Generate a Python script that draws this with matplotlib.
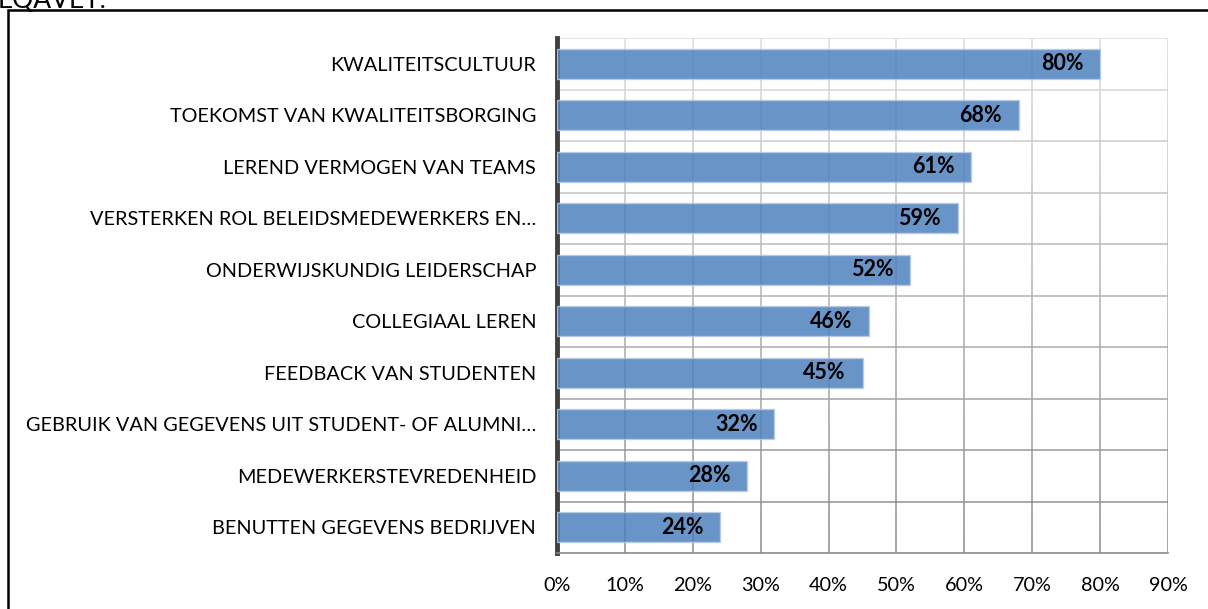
import matplotlib
matplotlib.use("Agg")
import matplotlib.pyplot as plt
import numpy as np
from matplotlib.ticker import FixedLocator, PercentFormatter
from matplotlib.patches import Rectangle
from matplotlib.collections import LineCollection
from matplotlib.colors import to_rgb

categories = [
    "KWALITEITSCULTUUR",
    "TOEKOMST VAN KWALITEITSBORGING",
    "LEREND VERMOGEN VAN TEAMS",
    "VERSTERKEN ROL BELEIDSMEDEWERKERS EN…",
    "ONDERWIJSKUNDIG LEIDERSCHAP",
    "COLLEGIAAL LEREN",
    "FEEDBACK VAN STUDENTEN",
    "GEBRUIK VAN GEGEVENS UIT STUDENT- OF ALUMNI…",
    "MEDEWERKERSTEVREDENHEID",
    "BENUTTEN GEGEVENS BEDRIJVEN",
]
values = [80, 68, 61, 59, 52, 46, 45, 32, 28, 24]
xticks = [0, 10, 20, 30, 40, 50, 60, 70, 80, 90]

plt.rcParams['font.family'] = ['Lato', 'DejaVu Sans']

fig = plt.figure(figsize=(12.08, 6.09), dpi=100)
W, H = 1208, 609

# outer frame and cut-off title
fig.patches.append(Rectangle((8 / W, -0.1), 1.2, (609 - 10) / H + 0.1, transform=fig.transFigure,
                             fill=False, edgecolor='black', linewidth=1.8))
fig.text(-2 / W, 1 - 8 / H, "EQAVET.", fontsize=19, va='baseline', ha='left', color='black')

ax = fig.add_axes([557 / W, 1 - 553 / H, (1168 - 557) / W, (553 - 38) / H])
n = len(categories)
ys = list(range(n))
ax.barh(ys, values, height=0.58, color='#4f81bd', alpha=0.85, edgecolor='#b8cce4',
        linewidth=1.0, zorder=3)
ax.set_ylim(n - 0.5, -0.5)
ax.set_xlim(0, 90)

# gradient gridlines: lighter at top, darker at bottom
top_c = np.array(to_rgb('#dcdcdc'))
bot_c = np.array(to_rgb('#8a8a8a'))
def shade(y):
    t = (y - (-0.5)) / n
    return tuple(top_c + (bot_c - top_c) * t)

segs, cols = [], []
edges = np.linspace(-0.5, n - 0.5, 200)
for xt in xticks[1:]:
    for a, b in zip(edges[:-1], edges[1:]):
        segs.append([(xt, a), (xt, b)])
        cols.append(shade((a + b) / 2))
for k in range(n):
    yb = k - 0.5
    segs.append([(0, yb), (90, yb)])
    cols.append(shade(yb))
ax.add_collection(LineCollection(segs, colors=cols, linewidths=1.1, zorder=1))

ax.xaxis.set_major_locator(FixedLocator(xticks))
ax.xaxis.set_major_formatter(PercentFormatter(decimals=0))
ax.set_yticks(ys)
ax.set_yticklabels(categories)
ax.tick_params(axis='y', which='both', length=0, pad=15, labelsize=14.3)
ax.tick_params(axis='x', length=0, pad=17, labelsize=14.3)

for s in ['top', 'right']:
    ax.spines[s].set_visible(False)
ax.spines['left'].set_color('#404040')
ax.spines['left'].set_linewidth(3.5)
ax.spines['bottom'].set_color('#8a8a8a')
ax.spines['bottom'].set_linewidth(1.2)

for y, v in zip(ys, values):
    ax.annotate(f"{v}%", xy=(v, y), xytext=(-12, 0), textcoords='offset points',
                ha='right', va='center', fontsize=15.5, fontweight='bold', color='black', zorder=4)

fig.savefig("out.png", dpi=100)
